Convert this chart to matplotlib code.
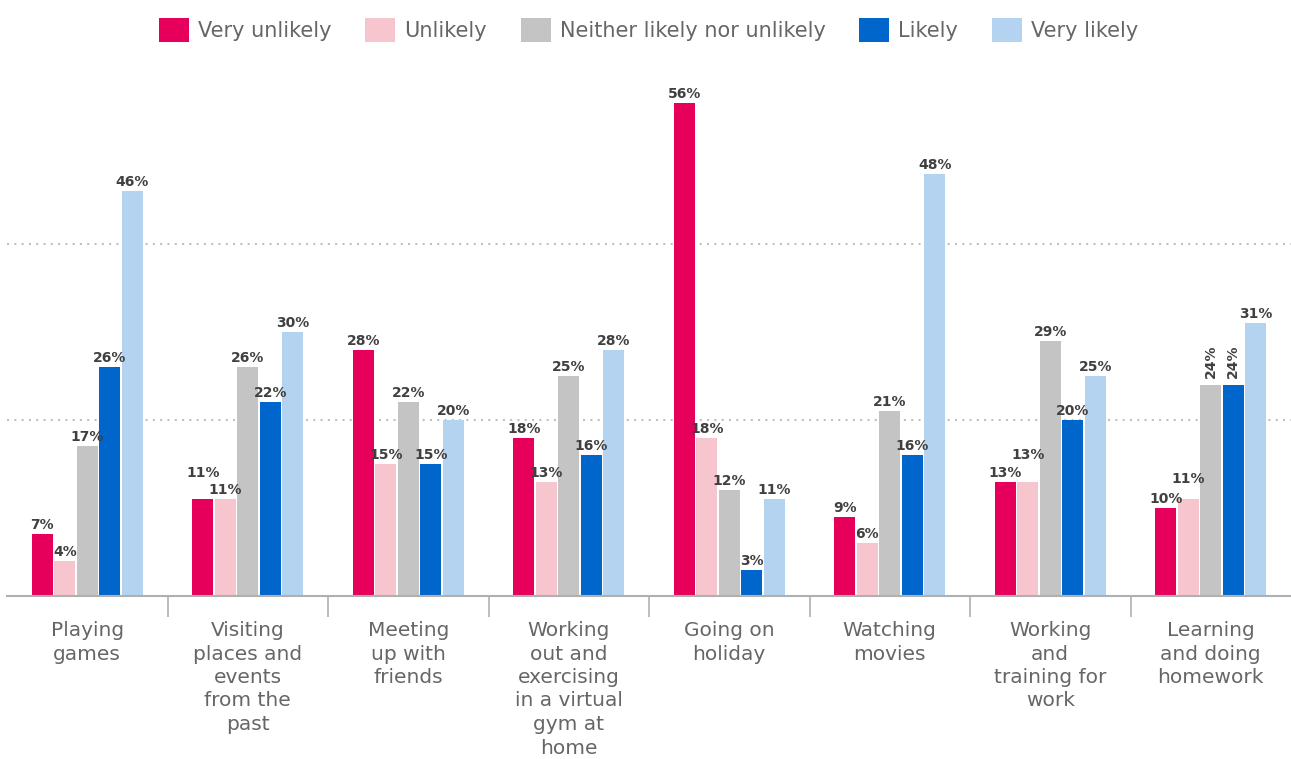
import numpy as np
import matplotlib

matplotlib.use("Agg")
import matplotlib.pyplot as plt
from matplotlib.patches import Patch

categories = [
    "Playing\ngames",
    "Visiting\nplaces and\nevents\nfrom the\npast",
    "Meeting\nup with\nfriends",
    "Working\nout and\nexercising\nin a virtual\ngym at\nhome",
    "Going on\nholiday",
    "Watching\nmovies",
    "Working\nand\ntraining for\nwork",
    "Learning\nand doing\nhomework",
]
series_names = ["Very unlikely", "Unlikely", "Neither likely nor unlikely", "Likely", "Very likely"]
very_unlikely = [7, 11, 28, 18, 56, 9, 13, 10]
unlikely = [4, 11, 15, 13, 18, 6, 13, 11]
neither = [17, 26, 22, 25, 12, 21, 29, 24]
likely = [26, 22, 15, 16, 3, 16, 20, 24]
very_likely = [46, 30, 20, 28, 11, 48, 25, 31]

series_values = [very_unlikely, unlikely, neither, likely, very_likely]
colors = ["#e6005c", "#f7c5cd", "#c4c4c4", "#0066cc", "#b3d3f0"]

# (group, series) -> label tweaks so neighbouring labels don't collide
vertical_labels = {(7, 2), (7, 3)}
raised_labels = {(1, 0): 12.5, (6, 1): 13.0, (7, 1): 8.0}

text_color = "#666666"
value_color = "#404040"
family = ["DejaVu Sans"]

fig = plt.figure(figsize=(12.91, 7.59), dpi=100)
ax = fig.add_axes([7 / 1291, 163 / 759, 1284 / 1291, (596 - 68) / 759])

x = np.arange(len(categories))
step = 0.140
width = 0.131
for s, (vals, col) in enumerate(zip(series_values, colors)):
    pos = x + (s - 2) * step
    bars = ax.bar(pos, vals, width=width, color=col, zorder=2)
    for g, (bar, v) in enumerate(zip(bars, vals)):
        xc = bar.get_x() + bar.get_width() / 2
        if (g, s) in vertical_labels:
            ax.annotate(f"{v}%", (xc, v), xytext=(0, 5), textcoords="offset points",
                        ha="center", va="bottom", rotation=90, fontsize=10,
                        fontweight="bold", color=value_color, family=family)
            continue
        dy = 3.6 + raised_labels.get((g, s), 0)
        ax.annotate(f"{v}%", (xc, v), xytext=(0, dy), textcoords="offset points",
                    ha="center", va="baseline", fontsize=10, fontweight="bold",
                    color=value_color, family=family)

ax.set_xlim(-0.5, len(categories) - 0.5)
ax.set_ylim(0, 60)

for yv in (20, 40):
    ax.axhline(yv, color="#c0c0c0", linestyle=(0, (1, 2.5)), linewidth=1.5, zorder=1)

for side in ("left", "right", "top"):
    ax.spines[side].set_visible(False)
ax.spines["bottom"].set_color("#b0b0b0")
ax.spines["bottom"].set_linewidth(1.5)

ax.set_yticks([])
ax.set_xticks(x)
ax.set_xticklabels(categories, fontsize=14.5, color=text_color, family=family,
                   linespacing=1.3)
ax.tick_params(axis="x", which="major", length=0, pad=18)
ax.set_xticks(x[:-1] + 0.5, minor=True)
ax.tick_params(axis="x", which="minor", length=15, width=1.2, color="#b0b0b0")

handles = [Patch(facecolor=c, edgecolor="none") for c in colors]
leg = fig.legend(
    handles,
    series_names,
    loc="center",
    bbox_to_anchor=(0.5023, 0.9605),
    ncol=5,
    frameon=False,
    handlelength=1.44,
    handleheight=1.44,
    handletextpad=0.43,
    columnspacing=1.63,
    prop={"family": family, "size": 15},
)
for t in leg.get_texts():
    t.set_color(text_color)

fig.savefig("out.png", dpi=100)
